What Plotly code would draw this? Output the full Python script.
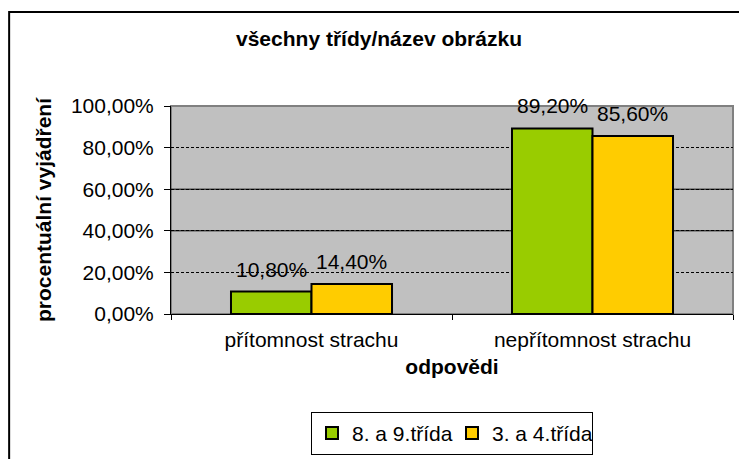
import plotly.graph_objects as go

# ---- data ----
categories = ["přítomnost strachu", "nepřítomnost strachu"]
series_names = ["8. a 9.třída", "3. a 4.třída"]
values_89 = [0.108, 0.892]
values_34 = [0.144, 0.856]
y_tickvals = [0.0, 0.2, 0.4, 0.6, 0.8, 1.0]
y_ticktext = ["0,00%", "20,00%", "40,00%", "60,00%", "80,00%", "100,00%"]
solid_grid = [0.4, 0.6]

title_text = "všechny třídy/název obrázku"
x_title = "odpovědi"
y_title = "procentuální vyjádření"

colors = ["#99CC00", "#FFCC00"]
FONT = "Liberation Sans, Arial, sans-serif"
FS = 21

# the page body adds an 8px offset; layout numbers are in figure pixels
W, H = 739, 451
ML, MR, MT, MB = 162.5, 14, 97.7, 145
PW, PH = W - ML - MR, H - MT - MB
BARGAP = 0.427


def fmt(v):
    return f"{v * 100:.2f}%".replace(".", ",")


fig = go.Figure()
all_series = [values_89, values_34]
for name, vals, col in zip(series_names, all_series, colors):
    fig.add_trace(go.Bar(
        x=categories, y=vals, name=name,
        marker=dict(color=col, line=dict(color="black", width=2)),
        hoverinfo="skip",
    ))

# data labels above each bar (positions derived from category index and bar width)
bar_w = (1 - BARGAP) / len(all_series)
annotations = []
for si, vals in enumerate(all_series):
    for ci, v in enumerate(vals):
        xc = ci - (1 - BARGAP) / 2 + bar_w * (si + 0.5)
        annotations.append(dict(
            x=xc, y=v, xref="x", yref="y", text=fmt(v), showarrow=False,
            yanchor="bottom", xanchor="center", yshift=9,
            font=dict(family=FONT, size=FS, color="black"),
        ))

shapes = [
    # outer chart border
    dict(type="rect", xref="paper", yref="paper",
         x0=(0.5 - ML) / PW, x1=3, y0=-3, y1=(H - MB - 3.5) / PH,
         line=dict(color="black", width=2), fillcolor="rgba(0,0,0,0)", layer="below"),
    # plot area border (gray)
    dict(type="rect", xref="paper", yref="paper", x0=0, x1=1, y0=0, y1=1,
         line=dict(color="#808080", width=2), fillcolor="rgba(0,0,0,0)", layer="between"),
]
for g in solid_grid:
    shapes.append(dict(type="line", xref="paper", yref="y", x0=0, x1=1, y0=g, y1=g,
                       line=dict(color="black", width=1), layer="between"))

fig.update_layout(
    width=W, height=H,
    margin=dict(l=ML, r=MR, t=MT, b=MB, autoexpand=False),
    paper_bgcolor="white", plot_bgcolor="#C0C0C0",
    barmode="group", bargap=BARGAP, bargroupgap=0,
    font=dict(family=FONT, size=FS, color="black"),
    title=dict(text=f"<b>{title_text}</b>", x=(379 - 8) / W, xanchor="center",
               y=1 - 31 / H, yanchor="middle", yref="container",
               font=dict(family=FONT, size=FS, color="black")),
    showlegend=True,
    legend=dict(orientation="h", x=0.5, xanchor="center", y=(H - MB - 404) / PH,
                yanchor="top", bordercolor="black", borderwidth=1, bgcolor="white",
                font=dict(family=FONT, size=FS, color="black"),
                itemwidth=30, tracegroupgap=0, entrywidth=95),
    annotations=annotations,
    shapes=shapes,
)

fig.update_xaxes(
    type="category", range=[-0.5, 1.5], tickson="boundaries",
    ticks="outside", ticklen=5, tickcolor="black", tickwidth=1,
    showline=True, linecolor="black", linewidth=1,
    showgrid=False, zeroline=False,
    ticklabelstandoff=7,
    title=dict(text=f"<b>{x_title}</b>", standoff=9,
               font=dict(family=FONT, size=FS, color="black")),
    tickfont=dict(family=FONT, size=FS, color="black"),
)
fig.update_yaxes(
    range=[0, 1], tickmode="array", tickvals=y_tickvals, ticktext=y_ticktext,
    ticks="outside", ticklen=6, tickcolor="black", tickwidth=1,
    showline=True, linecolor="black", linewidth=1,
    showgrid=True, gridcolor="black", gridwidth=1, griddash="3px,2px",
    zeroline=False,
    ticklabelstandoff=6,
    title=dict(text=f"<b>{y_title}</b>", standoff=13,
               font=dict(family=FONT, size=FS, color="black")),
    tickfont=dict(family=FONT, size=FS, color="black"),
)

fig.write_html("out.html")
